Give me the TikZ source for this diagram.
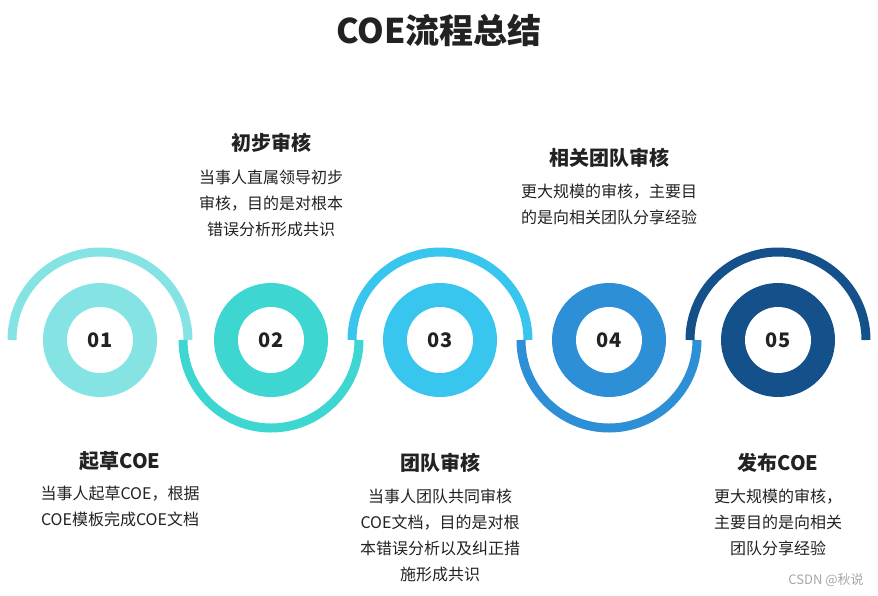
\documentclass[tikz,border=0pt]{standalone}
\usepackage{fontspec}
\setmainfont{Noto Sans CJK SC}
\definecolor{c1}{HTML}{86E3E3}
\definecolor{c2}{HTML}{3DD6D0}
\definecolor{c3}{HTML}{38C6EE}
\definecolor{c4}{HTML}{2D8FD5}
\definecolor{c5}{HTML}{14508A}
\definecolor{tx}{HTML}{222222}
\begin{document}
\begin{tikzpicture}[x=1pt,y=-1pt,
  ring/.style={circle,minimum size=114pt,inner sep=0pt},
  num/.style={circle,fill=white,minimum size=66pt,inner sep=0pt,font=\fontsize{20}{24}\selectfont\bfseries,text=tx},
  head/.style={font=\fontsize{20}{24}\selectfont\bfseries,text=tx},
  body/.style={font=\fontsize{16}{26}\selectfont,text=tx,align=center},
  arcline/.style={line width=9pt}]
\useasboundingbox (0,0) rectangle (878,595);
\node[font=\fontsize{34}{40}\selectfont\bfseries,text=tx] (title) at (439,30) {COE流程总结};
\foreach \i/\x/\c in {1/100/c1,2/271/c2,3/440/c3,4/609/c4,5/778/c5}{
  \node[ring,fill=\c] (r\i) at (\x,340) {};
  \node[num] (n\i) at (\x,340) {0\i};
}
\draw[arcline,c1] (12,340) arc[start angle=180,end angle=360,radius=88];
\draw[arcline,c2] (183,340) arc[start angle=180,end angle=0,radius=88];
\draw[arcline,c3] (352,340) arc[start angle=180,end angle=360,radius=88];
\draw[arcline,c4] (521,340) arc[start angle=180,end angle=0,radius=88];
\draw[arcline,c5] (690,340) arc[start angle=180,end angle=360,radius=88];
\node[head] (h2) at (271,143) {初步审核};
\node[body,anchor=north] (b2) at (271,167) {当事人直属领导初步\\审核，目的是对根本\\错误分析形成共识};
\node[head] (h4) at (609,158) {相关团队审核};
\node[body,anchor=north] (b4) at (609,180) {更大规模的审核，主要目\\的是向相关团队分享经验};
\node[head] (h1) at (120,461) {起草COE};
\node[body,anchor=north] (b1) at (120,483) {当事人起草COE，根据\\COE模板完成COE文档};
\node[head] (h3) at (440,463) {团队审核};
\node[body,anchor=north] (b3) at (440,485) {当事人团队共同审核\\COE文档，目的是对根\\本错误分析以及纠正措\\施形成共识};
\node[head] (h5) at (778,463) {发布COE};
\node[body,anchor=north] (b5) at (778,485) {更大规模的审核，\\主要目的是向相关\\团队分享经验};
\node[font=\fontsize{13}{15}\selectfont,text=gray!70] (wm) at (826,580) {CSDN @秋说};
\end{tikzpicture}
\end{document}
